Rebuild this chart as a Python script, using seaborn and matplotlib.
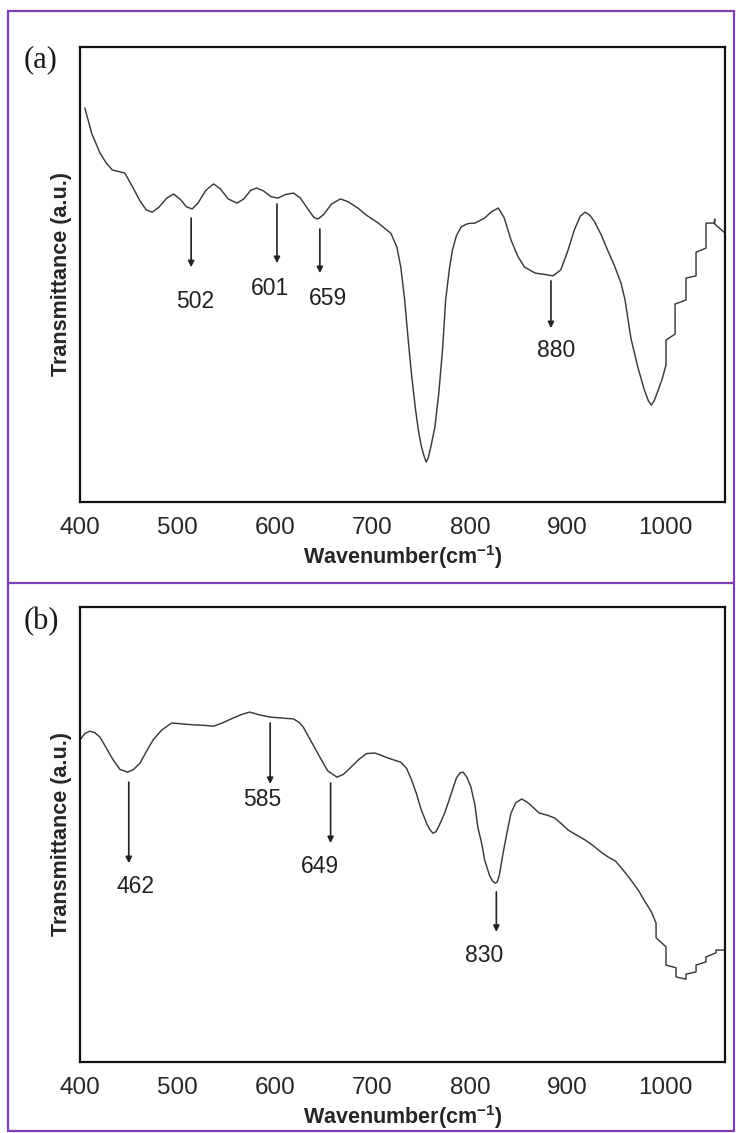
#!/usr/bin/env python3
"""FTIR transmittance spectra, panels (a) and (b), with marked bands."""
import numpy as np
import pandas as pd
import matplotlib
matplotlib.use("Agg")
import matplotlib.pyplot as plt
import seaborn as sns
from matplotlib.patches import Rectangle
from matplotlib.lines import Line2D

# ---------- panel (a) spectrum (wavenumber, transmittance a.u.) ----------
wn_a = [405, 412, 420.5, 427, 433, 440, 446, 454, 462, 468, 474, 481, 489, 496,
        503, 509, 515, 521, 529, 537, 544, 552, 561, 568, 575, 581, 588, 596,
        603, 611, 619, 626, 634, 640, 644, 650, 658, 667, 675, 685, 694, 706,
        719, 725, 729, 733, 736, 740, 744, 747, 750, 753, 755, 757, 760, 764,
        768, 772, 775, 779, 782, 786, 791, 798, 805, 815, 822, 829, 835, 842,
        849, 856, 867, 877, 885, 893, 900, 907, 913, 918, 923, 928, 935, 941,
        948, 955, 959, 965, 972, 979, 983, 986, 989, 993, 997, 1001, 1001,
        1010.3, 1010.3, 1021.5, 1021.5, 1031.8, 1031.8, 1042, 1042, 1050.3,
        1051, 1051, 1060.5]
tr_a = [86.6, 81, 76.7, 74.5, 73, 72.6, 72.3, 69.2, 66, 64.2, 63.7, 64.8, 66.8,
        67.7, 66.5, 64.9, 64.4, 65.7, 68.5, 69.9, 68.8, 66.6, 65.7, 66.6, 68.5,
        69, 68.4, 67.1, 66.8, 67.6, 67.9, 66.8, 64.3, 62.5, 62.2, 63.2, 65.5,
        66.6, 66, 64.6, 63, 61.3, 59, 56, 51.6, 44.4, 37, 28, 20.5, 15.8, 12.3,
        10, 8.8, 9.6, 12.3, 16.5, 24, 34, 44.4, 51.5, 55.4, 58.5, 60.5, 61.2,
        61.3, 62.4, 63.8, 64.6, 62.5, 57.6, 54, 51.6, 50.3, 50, 49.7, 51, 55,
        59.8, 62.8, 63.7, 63, 61.5, 58.5, 55.4, 52, 48, 44.4, 36, 29.7, 24.5,
        22.2, 21.3, 22.3, 24.6, 27, 30.1, 35.6, 36.9, 43.5, 44.4, 49.2, 49.7,
        54.9, 55.8, 61.3, 61.3, 62.2, 61.1, 59.3]

# ---------- panel (b) spectrum ----------
wn_b = [400, 405, 410, 415, 420.5, 427, 434, 441, 449, 455, 461.5, 468, 475,
        484, 494, 505, 516, 527, 537, 547, 557, 566, 574, 584, 595, 607, 619,
        625, 629, 637, 646, 654, 663.5, 670, 677, 686, 694, 702.5, 709, 716,
        723, 729, 735, 740, 745, 750, 756, 759, 762, 765, 768, 774, 780, 786,
        790, 793, 797, 801, 805, 808, 812, 815, 820, 823, 826, 828, 830, 834,
        838, 842, 847, 853, 858, 862, 871, 880, 887, 894, 900.5, 909, 918, 926,
        934, 942, 949, 957, 965, 973, 980.5, 986, 990.8, 990.8, 1001, 1001,
        1011.3, 1011.3, 1021.5, 1021.5, 1031.8, 1031.8, 1042, 1042, 1052.3,
        1052.3, 1061.5]
tr_b = [70.8, 72.2, 72.7, 72.4, 71.4, 69, 66.4, 64.3, 63.7, 64.3, 65.7, 68.2,
        70.8, 73, 74.5, 74.3, 74.1, 74, 73.8, 74.6, 75.6, 76.4, 76.9, 76.3,
        75.8, 75.6, 75.4, 74.6, 73.6, 70.5, 67, 64, 62.6, 63.2, 64.6, 66.5,
        67.8, 67.9, 67.4, 66.8, 66.3, 65.9, 64.5, 62, 59, 55.4, 52.2, 51,
        50.3, 50.6, 51.8, 54.7, 58.5, 62.4, 63.6, 63.7, 62.5, 60.4, 56.5, 51.6,
        48, 44.4, 41, 39.8, 39.3, 39.6, 41, 46, 50.5, 54.7, 57, 57.8, 57.2,
        56.5, 54.7, 54.2, 53.6, 52.3, 51, 49.9, 48.8, 47.6, 46.2, 45, 44.2,
        42.2, 40, 37.6, 34.9, 33, 30.5, 27.3, 25.3, 21.3, 20.7, 18.7, 18.2,
        19.3, 19.8, 21.3, 22, 23.1, 24, 24.6, 24.6]

# ---------- band markers: label, arrow x, arrow start y, arrow end y, label x, label y ----------
labels_a = ["502", "601", "659", "880"]
arrow_x_a = [514, 602, 646, 883]
arrow_y0_a = [62.4, 65.5, 60, 48.6]
arrow_y1_a = [51.6, 52.5, 50.3, 38.2]
text_x_a = [518, 595, 654, 888]
text_y_a = [44, 47, 44.8, 33.4]

labels_b = ["462", "585", "649", "830"]
arrow_x_b = [450, 595, 657, 827]
arrow_y0_b = [61.5, 74.5, 61.3, 37.4]
arrow_y1_b = [43.7, 61.1, 48.1, 28.6]
text_x_b = [457, 586.5, 646, 814]
text_y_b = [38.5, 57.8, 42.9, 23.3]

major_ticks = [400, 500, 600, 700, 800, 900, 1000]
minor_ticks = [450, 550, 650, 750, 850, 950, 1050]

sns.set_style("white")
plt.rcParams["font.family"] = ["Liberation Sans", "DejaVu Sans"]
plt.rcParams["mathtext.fontset"] = "custom"
plt.rcParams["mathtext.rm"] = "Liberation Sans"
plt.rcParams["mathtext.bf"] = "Liberation Sans:bold"

W, H = 736, 1133
fig = plt.figure(figsize=(W / 100, H / 100), dpi=100)
purple = "#7d40b4"
line_c = "#3a3a3a"

# purple frame with divider
fig.add_artist(Rectangle((8 / W, 1 - 1131 / H), (734 - 8) / W, (1131 - 11) / H,
                         transform=fig.transFigure, fill=False,
                         edgecolor=purple, lw=1.6))
fig.add_artist(Line2D([8 / W, 734 / W], [1 - 583 / H, 1 - 583 / H],
                      transform=fig.transFigure, color=purple, lw=1.6))

panels = [
    ("(a)", 47, wn_a, tr_a, labels_a, arrow_x_a, arrow_y0_a, arrow_y1_a,
     text_x_a, text_y_a, 60),
    ("(b)", 607, wn_b, tr_b, labels_b, arrow_x_b, arrow_y0_b, arrow_y1_b,
     text_x_b, text_y_b, 622),
]

for (tag, top_px, wn, tr, labs, ax_x, ay0, ay1, tx, ty, tag_y) in panels:
    ax = fig.add_axes([80 / W, 1 - (top_px + 455) / H, 645 / W, 455 / H])
    df = pd.DataFrame({"wn": wn, "tr": tr})
    sns.lineplot(data=df, x="wn", y="tr", estimator=None, sort=False,
                 color=line_c, lw=1.05, ax=ax)
    ax.set_xlim(400, 1061.5)
    ax.set_ylim(0, 100)
    ax.set_xticks(major_ticks)
    ax.set_xticks(minor_ticks, minor=True)
    ax.set_yticks([])
    ax.tick_params(axis="x", which="major", direction="out", length=7,
                   width=1.3, labelsize=17.5, pad=4, color="#111")
    ax.tick_params(axis="x", which="minor", direction="out", length=4,
                   width=1.3, color="#111")
    for sp in ax.spines.values():
        sp.set_visible(True)
        sp.set_linewidth(1.6)
        sp.set_color("#111")
    ax.set_xlabel(r"Wavenumber(cm$^{\mathbf{-1}}$)", fontsize=15.5,
                  fontweight="bold", labelpad=3)
    ax.set_ylabel("Transmittance (a.u.)", fontsize=15.5, fontweight="bold",
                  labelpad=6)

    for lab, x, y0, y1, x_t, y_t in zip(labs, ax_x, ay0, ay1, tx, ty):
        ax.annotate("", xy=(x, y1), xytext=(x, y0),
                    arrowprops=dict(arrowstyle="-|>", color="#222", lw=1.2,
                                    mutation_scale=9, shrinkA=0, shrinkB=0))
        ax.text(x_t, y_t, lab, ha="center", va="center", fontsize=16.5,
                color="#222")

    fig.text(41 / W, 1 - tag_y / H, tag, ha="center", va="center",
             fontsize=22, family=["Liberation Serif", "DejaVu Serif"],
             color="#1a1a1a")

fig.savefig("out.png", dpi=100)
